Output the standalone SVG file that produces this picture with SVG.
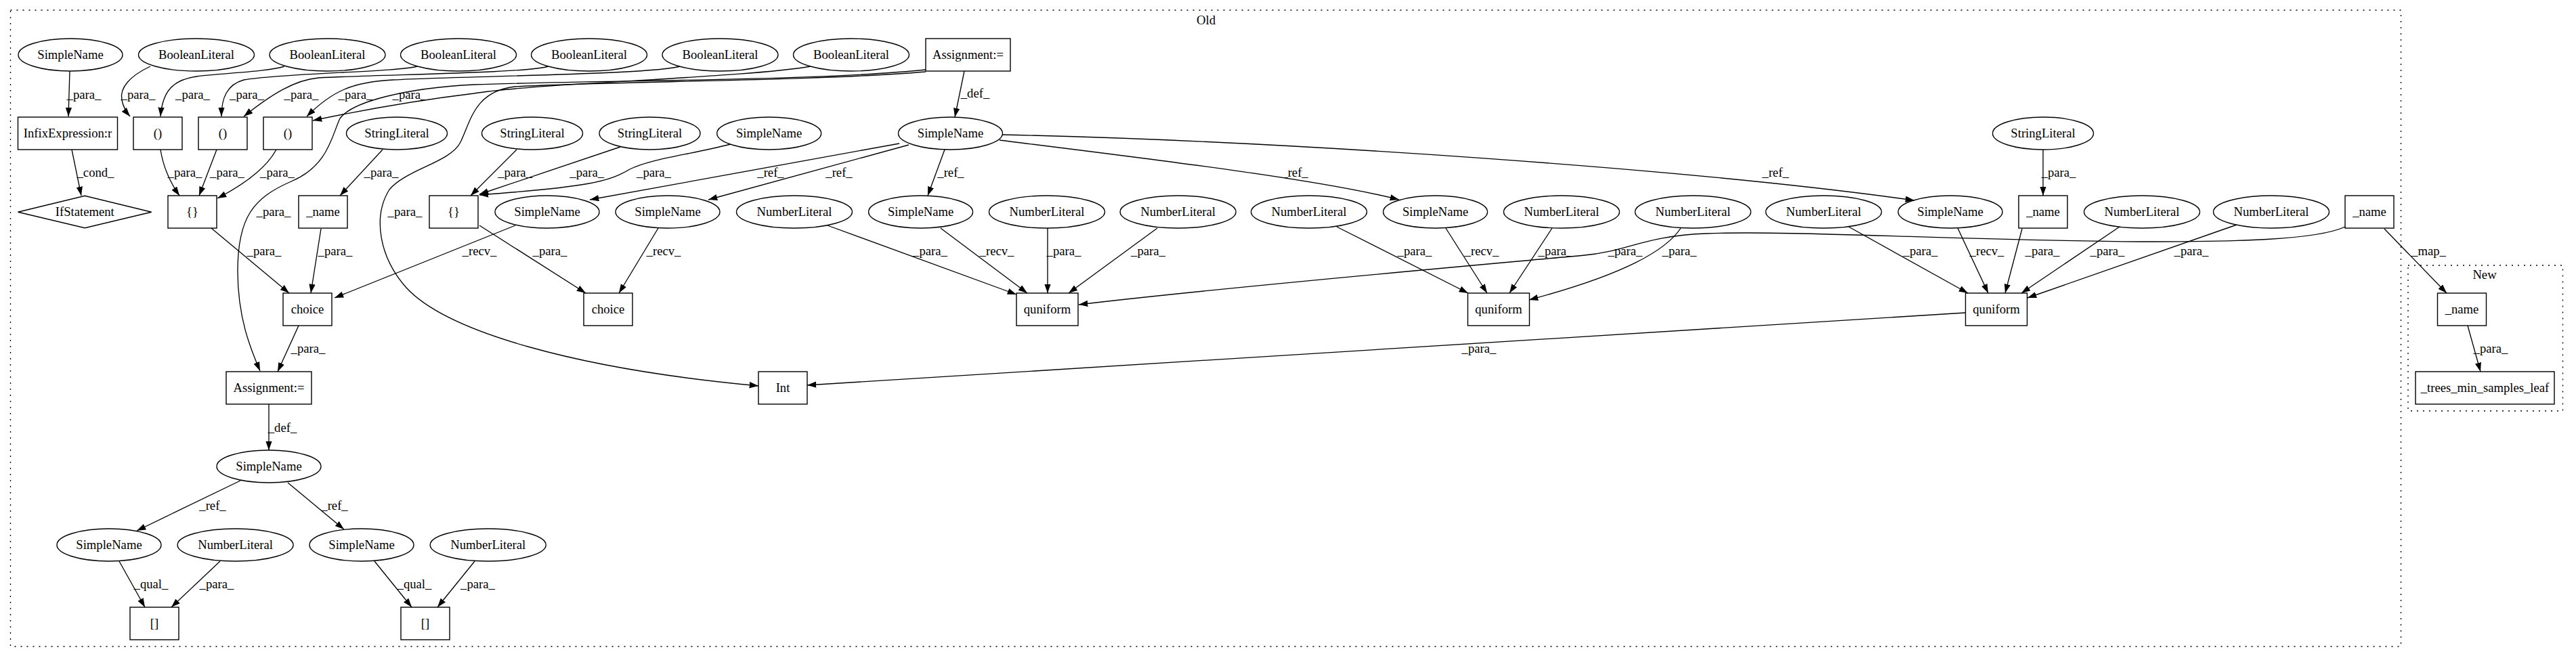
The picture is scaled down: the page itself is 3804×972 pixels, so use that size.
<svg xmlns="http://www.w3.org/2000/svg" width="3804" height="972" viewBox="0 0 3804 972">
<defs>
<marker id="ah" markerUnits="userSpaceOnUse" markerWidth="14" markerHeight="10" refX="13.3" refY="4.67" orient="auto">
<path d="M0,0 L13.3,4.67 L0,9.33 z" fill="#000"/>
</marker>
<style>
text{font-family:"Liberation Serif","Times New Roman",serif;font-size:18.67px;text-anchor:middle;fill:#000}
.n{fill:none;stroke:#000;stroke-width:1.4}
.c{fill:none;stroke:#000;stroke-width:1.33;stroke-dasharray:2,7}
#edges path{fill:none;stroke:#000;stroke-width:1.33;marker-end:url(#ah)}
</style>
</defs>
<rect width="3804" height="972" fill="#fff"/>
<g id="cluster-old"><rect class="c" x="15.5" y="15" width="3530" height="940"/><text x="1781" y="36">Old</text></g>
<g id="cluster-new"><rect class="c" x="3556" y="392" width="228.5" height="215"/><text x="3669" y="412">New</text></g>

<g id="edges">
<path d="M103,105 L101,172"/><text x="124" y="146">_para_</text>
<path d="M106,221 L120,289"/><text x="141" y="261">_cond_</text>
<path d="M222,98 C192,112 176,130 180,148 C182,158 186,165 192,172"/><text x="204" y="146">_para_</text>
<path d="M420,98 C395,106 330,108 290,113 C255,118 240,135 237,172"/><text x="284.5" y="146">_para_</text>
<path d="M616,98 C590,106 420,108 360,118 C335,125 327,145 327,172"/><text x="364.5" y="146">_para_</text>
<path d="M810,98 C780,108 560,110 470,115 C435,118 400,140 360,172"/><text x="445" y="146">_para_</text>
<path d="M1004,98 C960,110 700,112 580,118 C520,121 490,135 453,172"/><text x="525" y="146">_para_</text>
<path d="M1197,98 C1100,115 800,122 700,138 C600,150 500,170 462,178"/><text x="605" y="146">_para_</text>
<path d="M1424,105 L1410,173"/><text x="1440" y="144">_def_</text>
<path d="M1367,103 C1200,120 900,118 700,125 C600,130 520,150 502,175 C490,200 485,245 430,268 C375,292 351,320 351,400 C351,470 370,515 384,548"/><text x="404" y="319">_para_</text>
<path d="M1367,106 C1200,120 900,120 760,128 C700,135 695,180 680,210 C665,240 600,250 575,280 C550,320 560,380 600,425 C660,490 850,545 1120,570"/><text x="598" y="319">_para_</text>
<path d="M237,221 C240,240 248,265 265,289"/><text x="273" y="261">_para_</text>
<path d="M320,221 L294,289"/><text x="335.5" y="261">_para_</text>
<path d="M408,221 C395,245 365,270 321,293"/><text x="409.5" y="261">_para_</text>
<path d="M565,221 L502,289"/><text x="563" y="261">_para_</text>
<path d="M763,221 L695,289"/><text x="760.6" y="261">_para_</text>
<path d="M916,217 L708,287"/><text x="866.7" y="261">_para_</text>
<path d="M1079,213 C1010,230 960,235 930,250 C900,268 870,276 708,288"/><text x="965.5" y="261">_para_</text>
<path d="M1328,212 L871,295"/><text x="1138" y="261">_ref_</text>
<path d="M1342,214 L1046,295"/><text x="1239" y="261">_ref_</text>
<path d="M1395,221 L1370,289"/><text x="1404" y="261">_ref_</text>
<path d="M1476,207 C1700,235 1950,265 2066,295"/><text x="1912" y="261">_ref_</text>
<path d="M1480,199 C1900,208 2500,250 2827,296"/><text x="2622" y="261">_ref_</text>
<path d="M3017,221 L3017,289"/><text x="3040" y="261">_para_</text>
<path d="M312,337 L427,433"/><text x="390" y="377">_para_</text>
<path d="M474,338 L459,433"/><text x="495" y="377">_para_</text>
<path d="M761,333 L494,440"/><text x="708" y="377">_recv_</text>
<path d="M708,333 L865,433"/><text x="812" y="377">_para_</text>
<path d="M972,337 L914,433"/><text x="980" y="377">_recv_</text>
<path d="M1222,333 L1501,435"/><text x="1373.5" y="377">_para_</text>
<path d="M1389,337 L1517,433"/><text x="1472" y="377">_recv_</text>
<path d="M1547,337 L1547,433"/><text x="1571" y="377">_para_</text>
<path d="M1709,337 L1578,433"/><text x="1695.5" y="377">_para_</text>
<path d="M3463,335 C3420,355 3300,357 3160,357 C2900,355 2640,340 2520,345 C2430,348 2400,372 2340,377 C2200,390 1800,425 1593,450"/><text x="2400" y="377">_para_</text>
<path d="M1974,335 L2168,433"/><text x="2089" y="377">_para_</text>
<path d="M2135,337 L2196,433"/><text x="2188" y="377">_recv_</text>
<path d="M2292,337 L2229,433"/><text x="2297" y="377">_para_</text>
<path d="M2482,337 C2460,370 2400,405 2258,443"/><text x="2480" y="377">_para_</text>
<path d="M2730,335 L2906,433"/><text x="2836" y="377">_para_</text>
<path d="M2891,337 L2936,433"/><text x="2934" y="377">_recv_</text>
<path d="M2986,338 L2961,433"/><text x="3016" y="377">_para_</text>
<path d="M3130,335 L2985,433"/><text x="3112" y="377">_para_</text>
<path d="M3303,332 L2994,440"/><text x="3236" y="377">_para_</text>
<path d="M3521,338 L3613,433"/><text x="3586.5" y="377">_map_</text>
<path d="M441,481 L410,549"/><text x="455" y="521">_para_</text>
<path d="M2902,462 L1192,569"/><text x="2184" y="521">_para_</text>
<path d="M3644,481 L3663,549"/><text x="3678" y="521">_para_</text>
<path d="M397,597 L397,665"/><text x="417" y="638">_def_</text>
<path d="M355,710 L202,784"/><text x="314" y="753">_ref_</text>
<path d="M425,713 L508,782"/><text x="494" y="753">_ref_</text>
<path d="M176,829 L214,897"/><text x="223" y="869">_qual_</text>
<path d="M325,829 L253,897"/><text x="320" y="869">_para_</text>
<path d="M553,829 L608,897"/><text x="612" y="869">_qual_</text>
<path d="M701,829 L646,897"/><text x="705.5" y="869">_para_</text>
</g>

<g id="n_sn_a"><ellipse class="n" cx="104" cy="81" rx="77" ry="24"/><text x="104" y="87">SimpleName</text></g>
<g id="n_bl1"><ellipse class="n" cx="290" cy="81" rx="85.5" ry="24"/><text x="290" y="87">BooleanLiteral</text></g>
<g id="n_bl2"><ellipse class="n" cx="483.5" cy="81" rx="85.5" ry="24"/><text x="483.5" y="87">BooleanLiteral</text></g>
<g id="n_bl3"><ellipse class="n" cx="677" cy="81" rx="85.5" ry="24"/><text x="677" y="87">BooleanLiteral</text></g>
<g id="n_bl4"><ellipse class="n" cx="870" cy="81" rx="85.5" ry="24"/><text x="870" y="87">BooleanLiteral</text></g>
<g id="n_bl5"><ellipse class="n" cx="1063.5" cy="81" rx="85.5" ry="24"/><text x="1063.5" y="87">BooleanLiteral</text></g>
<g id="n_bl6"><ellipse class="n" cx="1257" cy="81" rx="85.5" ry="24"/><text x="1257" y="87">BooleanLiteral</text></g>
<g id="n_assign1"><rect class="n" x="1367" y="57" width="125" height="48"/><text x="1429.5" y="87">Assignment:=</text></g>

<g id="n_infix"><rect class="n" x="26.5" y="173" width="147" height="48"/><text x="100" y="203">InfixExpression:r</text></g>
<g id="n_par1"><rect class="n" x="197" y="173" width="72" height="48"/><text x="233" y="203">()</text></g>
<g id="n_par2"><rect class="n" x="293" y="173" width="72" height="48"/><text x="329" y="203">()</text></g>
<g id="n_par3"><rect class="n" x="389" y="173" width="72" height="48"/><text x="425" y="203">()</text></g>
<g id="n_sl1"><ellipse class="n" cx="586" cy="197" rx="74.5" ry="24"/><text x="586" y="203">StringLiteral</text></g>
<g id="n_sl2"><ellipse class="n" cx="786" cy="197" rx="74.5" ry="24"/><text x="786" y="203">StringLiteral</text></g>
<g id="n_sl3"><ellipse class="n" cx="959.5" cy="197" rx="74.5" ry="24"/><text x="959.5" y="203">StringLiteral</text></g>
<g id="n_sn_b"><ellipse class="n" cx="1135.7" cy="197" rx="77" ry="24"/><text x="1135.7" y="203">SimpleName</text></g>
<g id="n_sn_big"><ellipse class="n" cx="1403.5" cy="197" rx="77" ry="24"/><text x="1403.5" y="203">SimpleName</text></g>
<g id="n_sl4"><ellipse class="n" cx="3017" cy="197" rx="74.5" ry="24"/><text x="3017" y="203">StringLiteral</text></g>

<g id="n_if"><polygon class="n" points="26.5,313.3 125.3,289.3 223.7,313.3 125.3,336.7"/><text x="125.3" y="319">IfStatement</text></g>
<g id="n_brace1"><rect class="n" x="248" y="289" width="72" height="48"/><text x="284" y="319">{}</text></g>
<g id="n_name1"><rect class="n" x="441" y="289" width="72" height="48"/><text x="477" y="319">_name</text></g>
<g id="n_brace2"><rect class="n" x="634" y="289" width="72" height="48"/><text x="670" y="319">{}</text></g>
<g id="n_sn_c1"><ellipse class="n" cx="808" cy="313" rx="77" ry="24"/><text x="808" y="319">SimpleName</text></g>
<g id="n_sn_c2"><ellipse class="n" cx="986" cy="313" rx="77" ry="24"/><text x="986" y="319">SimpleName</text></g>
<g id="n_nl1"><ellipse class="n" cx="1173" cy="313" rx="85.5" ry="24"/><text x="1173" y="319">NumberLiteral</text></g>
<g id="n_sn_c3"><ellipse class="n" cx="1359.6" cy="313" rx="77" ry="24"/><text x="1359.6" y="319">SimpleName</text></g>
<g id="n_nl2"><ellipse class="n" cx="1546" cy="313" rx="85.5" ry="24"/><text x="1546" y="319">NumberLiteral</text></g>
<g id="n_nl3"><ellipse class="n" cx="1739.6" cy="313" rx="85.5" ry="24"/><text x="1739.6" y="319">NumberLiteral</text></g>
<g id="n_nl4"><ellipse class="n" cx="1933" cy="313" rx="85.5" ry="24"/><text x="1933" y="319">NumberLiteral</text></g>
<g id="n_sn_c4"><ellipse class="n" cx="2119.6" cy="313" rx="77" ry="24"/><text x="2119.6" y="319">SimpleName</text></g>
<g id="n_nl5"><ellipse class="n" cx="2306" cy="313" rx="85.5" ry="24"/><text x="2306" y="319">NumberLiteral</text></g>
<g id="n_nl6"><ellipse class="n" cx="2500" cy="313" rx="85.5" ry="24"/><text x="2500" y="319">NumberLiteral</text></g>
<g id="n_nl7"><ellipse class="n" cx="2693" cy="313" rx="85.5" ry="24"/><text x="2693" y="319">NumberLiteral</text></g>
<g id="n_sn_c5"><ellipse class="n" cx="2880" cy="313" rx="77" ry="24"/><text x="2880" y="319">SimpleName</text></g>
<g id="n_name2"><rect class="n" x="2981" y="289" width="72" height="48"/><text x="3017" y="319">_name</text></g>
<g id="n_nl8"><ellipse class="n" cx="3163" cy="313" rx="85.5" ry="24"/><text x="3163" y="319">NumberLiteral</text></g>
<g id="n_nl9"><ellipse class="n" cx="3354" cy="313" rx="85.5" ry="24"/><text x="3354" y="319">NumberLiteral</text></g>
<g id="n_name3"><rect class="n" x="3463" y="289" width="72" height="48"/><text x="3499" y="319">_name</text></g>

<g id="n_choice1"><rect class="n" x="418" y="433" width="72" height="48"/><text x="454" y="463">choice</text></g>
<g id="n_choice2"><rect class="n" x="862" y="433" width="72" height="48"/><text x="898" y="463">choice</text></g>
<g id="n_q1"><rect class="n" x="1501" y="433" width="91" height="48"/><text x="1546.5" y="463">quniform</text></g>
<g id="n_q2"><rect class="n" x="2167.5" y="433" width="91" height="48"/><text x="2213" y="463">quniform</text></g>
<g id="n_q3"><rect class="n" x="2902.5" y="433" width="91" height="48"/><text x="2948" y="463">quniform</text></g>
<g id="n_name_new"><rect class="n" x="3599.5" y="433" width="72" height="48"/><text x="3635.5" y="463">_name</text></g>

<g id="n_assign2"><rect class="n" x="334" y="549" width="126" height="48"/><text x="397" y="579">Assignment:=</text></g>
<g id="n_int"><rect class="n" x="1120" y="549" width="72" height="48"/><text x="1156" y="579">Int</text></g>
<g id="n_trees"><rect class="n" x="3567" y="549" width="205" height="48"/><text x="3669.5" y="579">_trees_min_samples_leaf</text></g>

<g id="n_sn_f"><ellipse class="n" cx="397" cy="689" rx="77" ry="24"/><text x="397" y="695">SimpleName</text></g>
<g id="n_sn_g1"><ellipse class="n" cx="161" cy="805" rx="77" ry="24"/><text x="161" y="811">SimpleName</text></g>
<g id="n_nl_g2"><ellipse class="n" cx="347.6" cy="805" rx="85.5" ry="24"/><text x="347.6" y="811">NumberLiteral</text></g>
<g id="n_sn_g3"><ellipse class="n" cx="534" cy="805" rx="77" ry="24"/><text x="534" y="811">SimpleName</text></g>
<g id="n_nl_g4"><ellipse class="n" cx="720.7" cy="805" rx="85.5" ry="24"/><text x="720.7" y="811">NumberLiteral</text></g>
<g id="n_idx1"><rect class="n" x="192" y="897" width="72" height="48"/><text x="228" y="927">[]</text></g>
<g id="n_idx2"><rect class="n" x="592" y="897" width="72" height="48"/><text x="628" y="927">[]</text></g>
</svg>
